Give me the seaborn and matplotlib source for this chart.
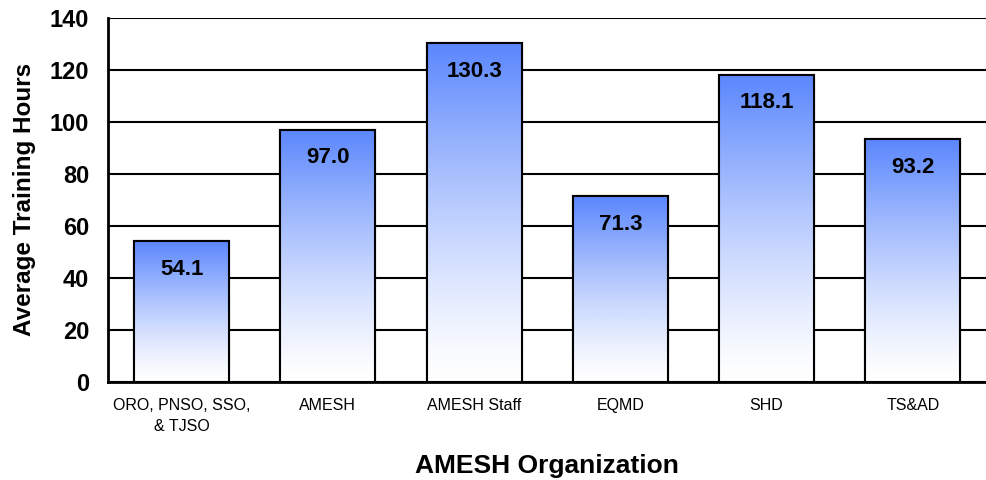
import numpy as np
import pandas as pd
import matplotlib
matplotlib.use('Agg')
import matplotlib.pyplot as plt
import seaborn as sns
from matplotlib.colors import LinearSegmentedColormap

categories = ['ORO, PNSO, SSO,\n& TJSO', 'AMESH', 'AMESH Staff', 'EQMD', 'SHD', 'TS&AD']
hours = [54.1, 97.0, 130.3, 71.3, 118.1, 93.2]

data = pd.DataFrame({'org': categories, 'hours': hours})

sns.set_style('white', {'text.color': 'black', 'axes.labelcolor': 'black',
                        'xtick.color': 'black', 'ytick.color': 'black'})
plt.rcParams['font.family'] = ['Liberation Sans', 'DejaVu Sans']

fig, ax = plt.subplots(figsize=(9.86, 4.8), dpi=100)
fig.subplots_adjust(left=0.11, right=1.0, top=0.963, bottom=0.205)

sns.barplot(data=data, x='org', y='hours', ax=ax, width=0.65,
            color='white', edgecolor='black', linewidth=1.5, zorder=3)

# blue-to-white gradient inside each bar (white at the bottom)
cmap = LinearSegmentedColormap.from_list('bw', ['white', '#5b87fd'])
grad = (np.linspace(0, 1, 256) ** 1.3).reshape(-1, 1)
for bar in ax.patches:
    x0, y0 = bar.get_x(), bar.get_y()
    w, h = bar.get_width(), bar.get_height()
    im = ax.imshow(grad, cmap=cmap, aspect='auto', origin='lower', vmin=0, vmax=1,
                   extent=[x0, x0 + w, y0, y0 + h], zorder=3.5)
    im.set_clip_path(bar)
    ax.add_patch(plt.Rectangle((x0, y0), w, h, fill=False, edgecolor='black',
                               linewidth=1.5, zorder=4))
    ax.text(x0 + w / 2, h - 10.8, f'{h:.1f}', ha='center', va='center',
            fontsize=16, fontweight='bold', color='black', zorder=5)

ax.set_xlim(-0.5, len(categories) - 0.5)
ax.set_ylim(0, 140)
ax.set_yticks(range(0, 141, 20))
ax.yaxis.grid(True, color='black', linewidth=1.5, zorder=0)
ax.set_axisbelow(True)

ax.set_xticks(np.arange(len(categories)))
ax.set_xticklabels(categories, fontsize=11.5, linespacing=1.5)
ax.set_xticks(np.arange(len(categories)) - 0.5, minor=True)
ax.tick_params(axis='x', which='major', length=0, pad=12)
ax.tick_params(axis='x', which='minor', length=5, width=1.5, color='black', direction='out')
ax.tick_params(axis='y', length=6, width=1.5, color='black', direction='out',
               labelsize=17, pad=8)
for lbl in ax.get_yticklabels():
    lbl.set_fontweight('bold')

for s in ['top', 'right']:
    ax.spines[s].set_visible(False)
for s in ['left', 'bottom']:
    ax.spines[s].set_color('black')
    ax.spines[s].set_linewidth(2)

ax.set_ylabel('Average Training Hours', fontsize=17.5, fontweight='bold', labelpad=10)
ax.set_xlabel('AMESH Organization', fontsize=19, fontweight='bold', labelpad=14)

fig.savefig('out.png', dpi=100)
